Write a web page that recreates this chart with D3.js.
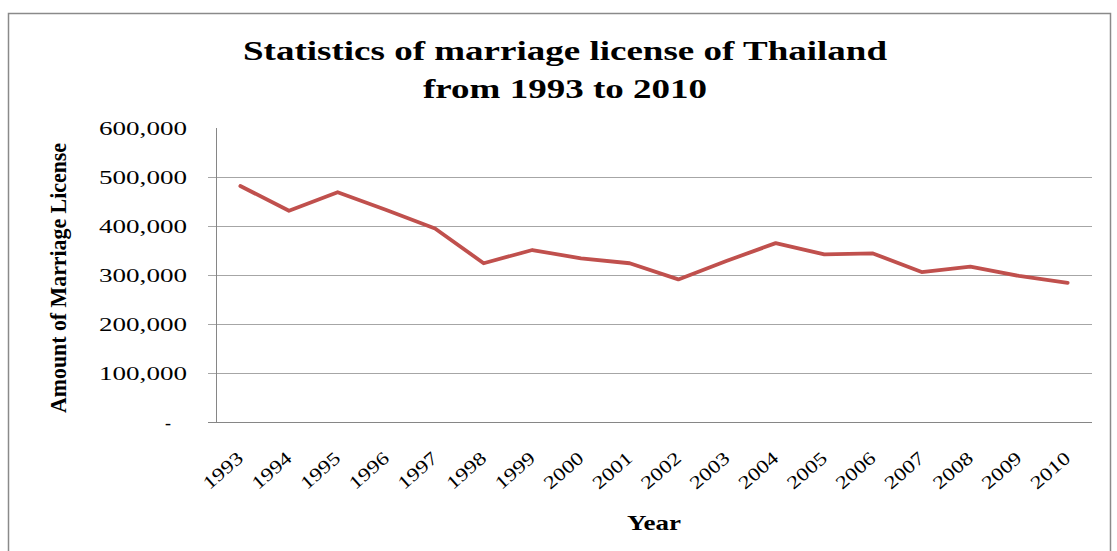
<!DOCTYPE html>
<html>
<head>
<meta charset="utf-8">
<script src="https://cdn.jsdelivr.net/npm/d3@7"></script>
<style>
  html, body { margin: 0; padding: 0; background: #fff; }
  svg { display: block; }
  text { font-family: "Liberation Serif", "Times New Roman", serif; fill: #000; }
</style>
</head>
<body>
<svg id="chart" width="1117" height="551"></svg>
<script>
// Registered marriage licenses in Thailand, 1993–2010
const years = ["1993","1994","1995","1996","1997","1998","1999","2000","2001",
               "2002","2003","2004","2005","2006","2007","2008","2009","2010"];
const licenses = [481600, 431000, 469000, 432600, 395000, 324000, 351000, 334000, 324000,
                  291000, 329000, 365000, 342000, 344000, 306000, 317000, 298000, 284000];
const yTicks = [0, 100000, 200000, 300000, 400000, 500000, 600000];
const yTickLabels = ["-", "100,000", "200,000", "300,000", "400,000", "500,000", "600,000"];
const titleLines = ["Statistics of marriage license of Thailand", "from 1993 to 2010"];
const xTitle = "Year";
const yTitle = "Amount of Marriage License";

const svg = d3.select("#chart");
const plot = { left: 216, right: 1092, top: 128, bottom: 422 };

const x = d3.scaleBand().domain(years).range([plot.left, plot.right]);
const y = d3.scaleLinear().domain([0, 600000]).range([plot.bottom, plot.top]);

// outer frame
svg.append("rect")
  .attr("x", 8.5).attr("y", 13.5)
  .attr("width", 1102).attr("height", 600)
  .attr("fill", "#fff")
  .attr("stroke", "#8a8a8a").attr("stroke-width", 1.5);

// title
svg.selectAll("text.title").data(titleLines).join("text")
  .attr("class", "title")
  .attr("x", 565)
  .attr("y", (d, i) => i === 0 ? 60 : 98)
  .attr("text-anchor", "middle")
  .attr("font-size", 28)
  .attr("font-weight", "bold")
  .attr("textLength", (d, i) => i === 0 ? 644 : 284)
  .attr("lengthAdjust", "spacingAndGlyphs")
  .text(d => d);

// horizontal gridlines (all but the top value) with small outward ticks
const gridVals = yTicks.filter(v => v > 0 && v < 600000);
svg.append("g").selectAll("line").data(gridVals).join("line")
  .attr("x1", plot.left - 8).attr("x2", plot.right)
  .attr("y1", d => Math.round(y(d)) + 0.5).attr("y2", d => Math.round(y(d)) + 0.5)
  .attr("stroke", "#a6a6a6").attr("stroke-width", 1);

// axes
svg.append("line")
  .attr("x1", plot.left + 0.5).attr("x2", plot.left + 0.5)
  .attr("y1", plot.top).attr("y2", plot.bottom)
  .attr("stroke", "#868686").attr("stroke-width", 1);
svg.append("line")
  .attr("x1", plot.left - 8).attr("x2", plot.right)
  .attr("y1", plot.bottom + 0.5).attr("y2", plot.bottom + 0.5)
  .attr("stroke", "#868686").attr("stroke-width", 1);

// y tick labels
svg.append("g").selectAll("text").data(yTicks).join("text")
  .attr("x", (d, i) => i === 0 ? 171 : 187)
  .attr("y", d => y(d) + 6.5)
  .attr("text-anchor", "end")
  .attr("font-size", 18)
  .each(function (d, i) {
    if (i > 0) d3.select(this).attr("textLength", 88).attr("lengthAdjust", "spacingAndGlyphs");
  })
  .text((d, i) => yTickLabels[i]);

// x tick labels, rotated
svg.append("g").selectAll("text").data(years).join("text")
  .attr("transform", d => `translate(${x(d) + x.bandwidth() / 2 + 4},460) rotate(-41)`)
  .attr("text-anchor", "end")
  .attr("font-size", 18.5)
  .attr("textLength", 46)
  .attr("lengthAdjust", "spacingAndGlyphs")
  .text(d => d);

// axis titles
svg.append("text")
  .attr("x", 654).attr("y", 529.5)
  .attr("text-anchor", "middle")
  .attr("font-size", 22).attr("font-weight", "bold")
  .attr("textLength", 54).attr("lengthAdjust", "spacingAndGlyphs")
  .text(xTitle);

svg.append("text")
  .attr("transform", "translate(66,278) rotate(-90)")
  .attr("text-anchor", "middle")
  .attr("font-size", 24).attr("font-weight", "bold")
  .attr("textLength", 270).attr("lengthAdjust", "spacingAndGlyphs")
  .text(yTitle);

// data line
const line = d3.line()
  .x((d, i) => x(years[i]) + x.bandwidth() / 2)
  .y(d => y(d));

svg.append("path")
  .datum(licenses)
  .attr("d", line)
  .attr("fill", "none")
  .attr("stroke", "#C0504D")
  .attr("stroke-width", 3.8)
  .attr("stroke-linejoin", "round")
  .attr("stroke-linecap", "round");
</script>
</body>
</html>
